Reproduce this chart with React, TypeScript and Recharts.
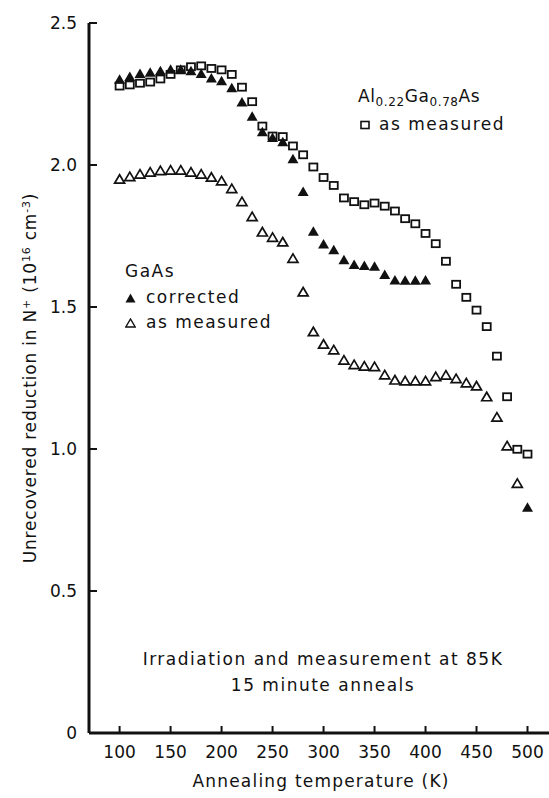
import { ScatterChart, Scatter, XAxis, YAxis } from 'recharts';

// temperatures (K)
const tempsCorrected = [100, 110, 120, 130, 140, 150, 160, 170, 180, 190, 200, 210, 220, 230, 240, 250, 260, 270, 280, 290, 300, 310, 320, 330, 340, 350, 360, 370, 380, 390, 400, 500];
const tempsGaAs = [100, 110, 120, 130, 140, 150, 160, 170, 180, 190, 200, 210, 220, 230, 240, 250, 260, 270, 280, 290, 300, 310, 320, 330, 340, 350, 360, 370, 380, 390, 400, 410, 420, 430, 440, 450, 460, 470, 480, 490];
const tempsAlGaAs = [100, 110, 120, 130, 140, 150, 160, 170, 180, 190, 200, 210, 220, 230, 240, 250, 260, 270, 280, 290, 300, 310, 320, 330, 340, 350, 360, 370, 380, 390, 400, 410, 420, 430, 440, 450, 460, 470, 480, 490, 500];

// unrecovered reduction in N+ (1e16 cm^-3)
const gaAsCorrected = [2.30, 2.31, 2.32, 2.325, 2.33, 2.335, 2.335, 2.33, 2.32, 2.305, 2.295, 2.27, 2.22, 2.17, 2.115, 2.095, 2.08, 2.02, 1.905, 1.765, 1.72, 1.70, 1.665, 1.648, 1.644, 1.642, 1.613, 1.593, 1.592, 1.592, 1.593, 0.793];
const gaAsMeasured = [1.95, 1.959, 1.968, 1.975, 1.98, 1.982, 1.982, 1.975, 1.968, 1.957, 1.944, 1.917, 1.871, 1.818, 1.764, 1.745, 1.729, 1.671, 1.553, 1.413, 1.369, 1.349, 1.313, 1.297, 1.292, 1.29, 1.261, 1.243, 1.24, 1.24, 1.24, 1.255, 1.26, 1.248, 1.233, 1.222, 1.184, 1.112, 1.011, 0.879];
const alGaAsMeasured = [2.278, 2.282, 2.288, 2.292, 2.303, 2.319, 2.335, 2.346, 2.349, 2.34, 2.335, 2.319, 2.274, 2.223, 2.137, 2.102, 2.10, 2.067, 2.036, 1.993, 1.956, 1.928, 1.884, 1.871, 1.86, 1.866, 1.855, 1.838, 1.811, 1.793, 1.759, 1.723, 1.661, 1.58, 1.534, 1.489, 1.431, 1.327, 1.184, 0.999, 0.982];

const xTicks = [100, 150, 200, 250, 300, 350, 400, 450, 500];
const yTicks = [0, 0.5, 1.0, 1.5, 2.0, 2.5];
const yInnerTicks = [0.5, 1.0, 1.5, 2.0];

const INK = '#111';
const FONT = '"DejaVu Sans", sans-serif';

const toPoints = (ts: number[], vs: number[]) => ts.map((t, i) => ({ t, v: vs[i] }));

const FilledTri = (p: any) => (
  <path d={`M${p.cx - 5.5},${p.cy + 4} L${p.cx + 5.5},${p.cy + 4} L${p.cx},${p.cy - 5.5} Z`} fill={INK} />
);
const OpenTri = (p: any) => (
  <path d={`M${p.cx - 5},${p.cy + 4} L${p.cx + 5},${p.cy + 4} L${p.cx},${p.cy - 4.5} Z`} fill="none" stroke={INK} strokeWidth={1.7} />
);
const OpenSq = (p: any) => (
  <rect x={p.cx - 4} y={p.cy - 3.5} width={8} height={7} fill="none" stroke={INK} strokeWidth={1.8} />
);

const BottomTick = (p: any) => (
  <g>
    <line x1={p.x} y1={p.y} x2={p.x} y2={p.y - 7} stroke={INK} strokeWidth={2} />
    <text x={p.x} y={p.y + 25} textAnchor="middle" fontSize={17} fontFamily={FONT} fill={INK}>{p.payload.value}</text>
  </g>
);
const TopTick = (p: any) => (
  <line x1={p.x} y1={p.y} x2={p.x} y2={p.y + 6} stroke={INK} strokeWidth={2} />
);
const LeftTick = (p: any) => (
  <g>
    <line x1={p.x} y1={p.y} x2={p.x + 8} y2={p.y} stroke={INK} strokeWidth={2} />
    <text x={p.x - 12} y={p.y + 6} textAnchor="end" fontSize={17} fontFamily={FONT} fill={INK}>
      {p.payload.value === 0 ? '0' : Number(p.payload.value).toFixed(1)}
    </text>
  </g>
);
const RightTick = (p: any) => (
  <line x1={p.x} y1={p.y} x2={p.x - 7} y2={p.y} stroke={INK} strokeWidth={1.5} />
);

const txt: React.CSSProperties = { position: 'absolute', fontSize: 17, letterSpacing: 1.5, color: INK, whiteSpace: 'nowrap', lineHeight: 1 };

export default function App() {
  return (
    <div style={{ position: 'absolute', left: 0, top: 0, width: 549, height: 798, overflow: 'hidden', background: '#fff', fontFamily: FONT }}>
      <ScatterChart width={553} height={798} margin={{ top: 23, right: 0, bottom: 0, left: 0 }}>
        <XAxis xAxisId="b" type="number" dataKey="t" domain={[70, 525]} ticks={xTicks} allowDataOverflow
          height={65} tickSize={0} tickMargin={0} tickLine={false} axisLine={{ stroke: INK, strokeWidth: 3 }}
          tick={(p: any) => <BottomTick {...p} />}
          label={{ value: 'Annealing temperature (K)', position: 'insideBottom', offset: 11, fontSize: 17, fill: INK, fontFamily: FONT, letterSpacing: 1.2 }} />
        <XAxis xAxisId="t" orientation="top" type="number" domain={[70, 525]} ticks={xTicks} allowDataOverflow
          height={0} tickSize={0} tickMargin={0} tickLine={false} axisLine={{ stroke: INK, strokeWidth: 2 }}
          tick={(p: any) => <TopTick {...p} />} />
        <YAxis yAxisId="l" type="number" dataKey="v" domain={[0, 2.5]} ticks={yTicks} allowDataOverflow
          width={89} tickSize={0} tickMargin={0} tickLine={false} axisLine={{ stroke: INK, strokeWidth: 3 }}
          tick={(p: any) => <LeftTick {...p} />} />
        <YAxis yAxisId="r" orientation="right" type="number" domain={[0, 2.5]} ticks={yInnerTicks} allowDataOverflow
          width={0} tickSize={0} tickMargin={0} tickLine={false} axisLine={false}
          tick={(p: any) => <RightTick {...p} />} />
        <Scatter xAxisId="b" yAxisId="l" data={toPoints(tempsAlGaAs, alGaAsMeasured)} shape={(p: any) => <OpenSq {...p} />} isAnimationActive={false} />
        <Scatter xAxisId="b" yAxisId="l" data={toPoints(tempsGaAs, gaAsMeasured)} shape={(p: any) => <OpenTri {...p} />} isAnimationActive={false} />
        <Scatter xAxisId="b" yAxisId="l" data={toPoints(tempsCorrected, gaAsCorrected)} shape={(p: any) => <FilledTri {...p} />} isAnimationActive={false} />
      </ScatterChart>

      <div style={{ ...txt, left: 30, top: 378, transform: 'translate(-50%, -50%) rotate(-90deg)', letterSpacing: 0.8 }}>
        Unrecovered reduction in N<sup style={{ fontSize: 11 }}>+</sup> (10<sup style={{ fontSize: 11 }}>16</sup> cm<sup style={{ fontSize: 11 }}>-3</sup>)
      </div>

      <div style={{ ...txt, left: 358, top: 88, letterSpacing: 0.6 }}>
        Al<sub style={{ fontSize: 12 }}>0.22</sub>Ga<sub style={{ fontSize: 12 }}>0.78</sub>As
      </div>
      <div style={{ ...txt, left: 360, top: 116, display: 'flex', alignItems: 'center' }}>
        <svg width={10} height={10} style={{ marginRight: 9 }}><rect x={1} y={1.5} width={8} height={7} fill="none" stroke={INK} strokeWidth={1.6} /></svg>
        as measured
      </div>

      <div style={{ ...txt, left: 125, top: 263 }}>GaAs</div>
      <div style={{ ...txt, left: 125, top: 289, display: 'flex', alignItems: 'center' }}>
        <svg width={11} height={10} style={{ marginRight: 10 }}><path d="M0.5,9.5 L10.5,9.5 L5.5,0.5 Z" fill={INK} /></svg>
        corrected
      </div>
      <div style={{ ...txt, left: 125, top: 314, display: 'flex', alignItems: 'center' }}>
        <svg width={11} height={10} style={{ marginRight: 10 }}><path d="M0.8,9 L10.2,9 L5.5,1 Z" fill="none" stroke={INK} strokeWidth={1.4} /></svg>
        as measured
      </div>

      <div style={{ ...txt, left: 138, top: 651, width: 370, textAlign: 'center' }}>
        Irradiation and measurement at 85K
      </div>
      <div style={{ ...txt, left: 138, top: 677, width: 370, textAlign: 'center' }}>
        15 minute anneals
      </div>
    </div>
  );
}
